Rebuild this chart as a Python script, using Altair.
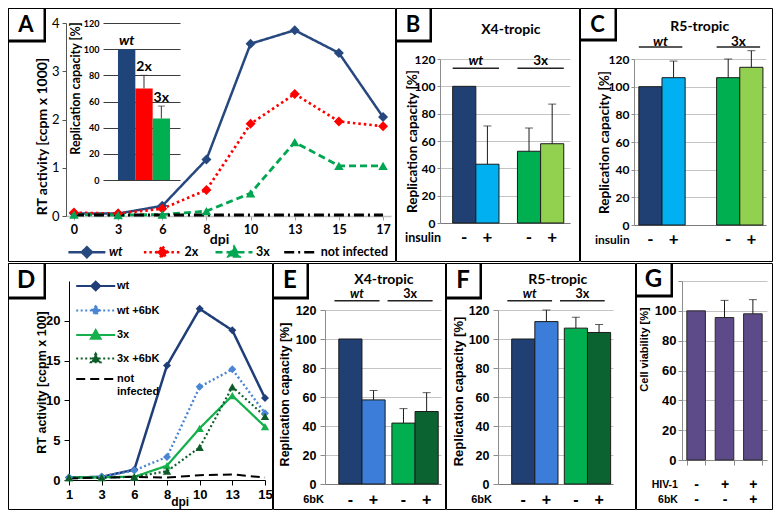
import altair as alt
import pandas as pd

LATO = "Lato"
ARIAL = "Liberation Sans"
INK = "#000000"
GRID = "#c4c4c4"
AXG = "#8c8c8c"

# ---------------- data ----------------
# Panel A: RT activity time course (ccpm x 1000)
a_dpi = ["0", "3", "6", "8", "10", "13", "15", "17"]
a_wt = [0.05, 0.05, 0.21, 1.17, 3.57, 3.85, 3.38, 2.05]
a_2x = [0.07, 0.05, 0.15, 0.54, 1.91, 2.53, 1.96, 1.86]
a_3x = [0.03, 0.02, 0.03, 0.10, 0.47, 1.53, 1.04, 1.04]
a_ni = [0.02, 0.02, 0.02, 0.02, 0.02, 0.02, 0.02, 0.02]
a_series = ["wt", "2x", "3x", "not infected"]

# Panel A inset: replication capacity (%)
ai_names = ["wt", "2x", "3x"]
ai_vals = [100, 70, 47]
ai_err = [0, 10, 9.5]

pct_ticks = [0, 20, 40, 60, 80, 100, 120]

# Panels B, C, E, F: replication capacity (%)
bar_groups = ["wt", "wt", "3x", "3x"]
bar_treat = ["-", "+", "-", "+"]
group_order = ["wt", "3x"]
b_vals = [100, 43, 52.5, 58]
b_err = [0, 28, 17, 29]
c_vals = [100, 106.5, 106.5, 114]
c_err = [0, 12, 13.5, 12]
e_vals = [100, 58, 42, 50]
e_err = [0, 6.5, 10, 13]
f_vals = [100, 112, 107.5, 104.5]
f_err = [0, 8, 7.5, 5.5]

# Panel D: RT activity (ccpm x 100)
d_dpi = ["1", "3", "6", "8", "10", "13", "15"]
d_wt = [0.3, 0.4, 1.3, 14.4, 21.5, 18.8, 10.3]
d_wt6 = [0.3, 0.4, 1.2, 2.9, 11.7, 13.9, 8.4]
d_3x = [0.3, 0.35, 0.4, 1.8, 6.5, 10.6, 6.7]
d_3x6 = [0.3, 0.3, 0.4, 1.1, 4.1, 11.7, 8.0]
d_ni = [0.2, 0.3, 0.4, 0.3, 0.6, 0.7, 0.3]
d_series = ["wt", "wt +6bK", "3x", "3x +6bK", "not infected"]
d_ticks = [0, 5, 10, 15, 20]

# Panel G: cell viability (%)
g_hiv = ["-", "+", "+"]
g_6bk = ["-", "-", "+"]
g_vals = [100, 95.5, 98]
g_err = [0, 11.5, 9.5]

# ---------------- styles ----------------
a_colors = ["#27487f", "#ff0000", "#00a651", "#000000"]
a_dash = [[1, 0], [2.5, 3], [7, 4], [10, 4, 2, 4]]
a_width = [2.5, 3, 2.2, 2.5]
a_paths = ["M-3.7,0H3.7M0,-1L1,0L0,1L-1,0Z",
           "M-3.7,0H3.7M0,-1.1L1.1,0L0,1.1L-1.1,0Z",
           "M-3.7,0H3.7M0,-1.1L1.1,0.85L-1.1,0.85Z",
           "M-3.3,0H3.3"]
# legend placement for panel A (legendX, labelOffset, italic label)
a_leg_x = [72.4, 147.9, 219.5, 286.2]
a_leg_lo = [15.5, 15.5, 15.5, 13.5]
a_leg_it = [True, False, False, False]
ai_colors = ["#1f447a", "#ff0000", "#00b050"]
bc_colors = ["#203f73", "#00b0f0", "#00b050", "#92d050"]
ef_colors = ["#203f73", "#3b7dd8", "#00b050", "#0a6330"]
d_colors = ["#1f3e78", "#4a86d4", "#14b04c", "#0e5c2a", "#000000"]
d_dash = [[1, 0], [2, 2.5], [1, 0], [2, 2.5], [9, 5]]
d_width = [2.5, 2, 2.5, 2, 2.5]
d_paths = ["M-3.9,0H3.9M0,-0.85L0.85,0L0,0.85L-0.85,0Z",
           "M-3.9,0H3.9M0,-0.85L0.85,0L0,0.85L-0.85,0Z",
           "M-3.9,0H3.9M0,-0.95L0.95,0.75L-0.95,0.75Z",
           "M-3.9,0H3.9M0,-0.95L0.95,0.75L-0.95,0.75Z",
           "M-3.9,0H3.9"]
g_color = "#5d4a88"

IND = dict(color="independent", fill="independent", stroke="independent", shape="independent",
           strokeDash="independent", strokeWidth="independent")


def frame_parts(letter, FW, FH, bw, bh, fs):
    df = pd.DataFrame({"panel": [letter]})
    base = alt.Chart(df)
    border = base.mark_rect(fill="transparent", stroke=INK, strokeWidth=1).encode(
        x=alt.value(0.5), x2=alt.value(FW - 0.5), y=alt.value(0.5), y2=alt.value(FH - 0.5))
    shadow = base.mark_rect(fill=INK).encode(
        x=alt.value(0), x2=alt.value(bw + 2), y=alt.value(0), y2=alt.value(bh + 2.5))
    box = base.mark_rect(fill="#ffffff", stroke=INK, strokeWidth=1).encode(
        x=alt.value(0.5), x2=alt.value(bw), y=alt.value(0.5), y2=alt.value(bh))
    txt = base.mark_text(font=LATO, fontWeight="bold", fontSize=fs, align="center",
                         baseline="middle", color=INK).encode(
        x=alt.value(bw / 2), y=alt.value(bh / 2 + 1), text="panel:N")
    return border, [shadow, box, txt]


def long_df(xs, names, arrays):
    rows = []
    for name, arr in zip(names, arrays):
        for xv, v in zip(xs, arr):
            rows.append({"dpi": xv, "series": name, "value": v})
    return pd.DataFrame(rows)


# ======================= Panel A =======================
AL, AT, AW, AH, AFW, AFH = 58, 15, 325, 193, 388, 254
a_df = long_df(a_dpi, a_series, [a_wt, a_2x, a_3x, a_ni])
xA = alt.X("dpi:N", sort=a_dpi, scale=alt.Scale(type="point", padding=0.18, range=[AL, AL + AW]),
           axis=alt.Axis(offset=-(AFH - AT - AH), title="dpi", titleFont=LATO, titleFontSize=14,
                         titleFontWeight="bold", titleColor=INK, titleX=AL + 153, titleY=23,
                         titleBaseline="middle", labelFont=LATO, labelFontSize=12.5,
                         labelFontWeight="bold", labelColor=INK, labelAngle=0, labelPadding=3,
                         domainColor="#c0c0c0", domainWidth=1.5, tickColor="#a0a0a0", tickSize=4))
yA = alt.Y("value:Q", scale=alt.Scale(domain=[0, 4], range=[AT + AH, AT]),
           axis=alt.Axis(offset=-AL, values=[0, 1, 2, 3, 4], grid=False, title="RT activity [ccpm x 1000]",
                         titleFont=LATO, titleFontSize=14, titleFontWeight="bold", titleColor=INK,
                         titleX=-24, titleY=AT + 113, titleBaseline="middle",
                         labelFont=LATO, labelFontSize=13, labelColor=INK, labelPadding=3,
                         domainColor="#555555", tickColor="#555555", tickSize=4))
cA = alt.Color("series:N", scale=alt.Scale(domain=a_series, range=a_colors), legend=None)
a_lines = alt.Chart(a_df).mark_line().encode(
    x=xA, y=yA, color=cA,
    strokeDash=alt.StrokeDash("series:N", scale=alt.Scale(domain=a_series, range=a_dash), legend=None),
    strokeWidth=alt.StrokeWidth("series:N", scale=alt.Scale(domain=a_series, range=a_width), legend=None))
a_pd = alt.Chart(a_df).transform_filter("datum.series == 'wt' || datum.series == '2x'").mark_point(
    shape="diamond", filled=True, size=100, opacity=1).encode(x=xA, y=yA, color=cA)
a_pt = alt.Chart(a_df).transform_filter("datum.series == '3x'").mark_point(
    shape="triangle-up", filled=True, size=90, opacity=1).encode(x=xA, y=yA, color=cA)
a_main = alt.layer(a_lines, a_pd, a_pt)


def a_single_legend(i):
    name = a_series[i]
    leg = alt.Legend(title=None, orient="none", legendX=a_leg_x[i], legendY=237.7,
                     symbolSize=100, symbolStrokeWidth=2.5, labelFont=LATO, labelFontSize=12.5,
                     labelFontWeight="bold", labelFontStyle="italic" if a_leg_it[i] else "normal",
                     labelColor=INK, labelOffset=a_leg_lo[i], padding=0)
    return alt.Chart(pd.DataFrame({"series": [name]})).transform_filter("false").mark_point(
        filled=True, opacity=1, strokeWidth=2.5).encode(
        fill=alt.Fill("series:N", scale=alt.Scale(domain=[name], range=[a_colors[i]]), legend=leg),
        stroke=alt.Stroke("series:N", scale=alt.Scale(domain=[name], range=[a_colors[i]]), legend=leg),
        shape=alt.Shape("series:N", scale=alt.Scale(domain=[name], range=[a_paths[i]]), legend=leg),
        strokeDash=alt.StrokeDash("series:N", scale=alt.Scale(domain=[name], range=[a_dash[i]]), legend=leg))


a_legs = [a_single_legend(i) for i in range(len(a_series))]

ai_df = pd.DataFrame({"name": ai_names, "value": ai_vals, "err": ai_err})
ai_df["top"] = ai_df["value"] + ai_df["err"]
IX0, IX1, IY0, IY1 = AL + 37, AL + 114, AT + 157, AT
xI = alt.X("name:N", sort=ai_names,
           scale=alt.Scale(domain=ai_names, range=[IX0, IX1], paddingInner=0, paddingOuter=0.72, align=0.6),
           axis=None)
yI_axis = alt.Axis(orient="left", offset=-IX0, values=pct_ticks, grid=True, gridColor="#3c3c3c",
                   gridWidth=1, domain=False, ticks=False, labelFont=LATO, labelFontSize=9,
                   labelFontWeight="bold", labelColor=INK, labelPadding=4,
                   title="Replication capacity [%]", titleFont=LATO, titleFontSize=12.5,
                   titleFontWeight="bold", titleColor=INK, titleX=-28, titleY=AT + 65, titleBaseline="middle")
iscale = alt.Scale(domain=[0, 120], range=[IY0, IY1])
yI = alt.Y("value:Q", scale=iscale, axis=yI_axis)
yIt = alt.Y("top:Q", scale=iscale, axis=yI_axis)
ai_err_df = ai_df[ai_df["err"] > 0]
i_bars = alt.Chart(ai_df).mark_bar().encode(
    x=xI, y=yI, color=alt.Color("name:N", scale=alt.Scale(domain=ai_names, range=ai_colors), legend=None))
i_rule = alt.Chart(ai_err_df).mark_rule(color="#333333", strokeWidth=1).encode(x=xI, y=yI, y2="top:Q")
i_cap = alt.Chart(ai_err_df).mark_tick(color="#333333", thickness=1, size=7).encode(x=xI, y=yIt)
i_t1 = alt.Chart(ai_df[ai_df["name"] == "wt"]).mark_text(
    font=LATO, fontSize=14, fontWeight="bold", fontStyle="italic", baseline="bottom", dy=-1, color=INK
).encode(x=xI, y=yIt, text="name:N")
i_t2 = alt.Chart(ai_df[ai_df["name"] != "wt"]).mark_text(
    font=LATO, fontSize=14, fontWeight="bold", baseline="bottom", dy=-1, color=INK
).encode(x=xI, y=yIt, text="name:N")
a_inset = alt.layer(i_bars, i_rule, i_cap, i_t1, i_t2)

brd, boxes = frame_parts("A", AFW, AFH, 36, 32, 22)
panelA = alt.layer(brd, a_main, *a_legs, a_inset, *boxes).resolve_scale(
    x="independent", y="independent", **IND).properties(width=AFW, height=AFH)


# ======================= bar panels B, C, E, F =======================
def bar_panel(letter, vals, errs, colors, title, cond, g):
    L, T, W, H, FW, FH = g["L"], g["T"], g["W"], g["H"], g["FW"], g["FH"]
    keys = [a + b for a, b in zip(bar_groups, bar_treat)]
    df = pd.DataFrame({"group": bar_groups, "treat": bar_treat, "value": vals, "err": errs, "key": keys})
    df["top"] = df["value"] + df["err"]
    xs = alt.Scale(domain=group_order, range=[L, L + W], paddingInner=g["pi"], paddingOuter=g["po"],
                   align=g["al"])
    x = alt.X("group:N", sort=group_order, scale=xs,
              axis=alt.Axis(offset=-(FH - T - H), title=None, labels=False, ticks=False,
                            domainColor="#7a7a7a", domainWidth=1.2))
    xo = alt.XOffset("treat:N", sort=["-", "+"],
                     scale=alt.Scale(domain=["-", "+"], paddingInner=0, paddingOuter=0))
    yax = alt.Axis(offset=-L, values=pct_ticks, grid=True, gridColor=GRID, gridWidth=1, domainColor=AXG,
                   tickColor=AXG, tickSize=g["tick"], labelPadding=g["lpad"], labelFont=g["lf"],
                   labelFontSize=g["lfs"], labelFontWeight="bold", labelColor=INK,
                   title="Replication capacity [%]", titleFont=g["tf"], titleFontSize=g["tfs"],
                   titleFontWeight="bold", titleColor=INK, titleX=g["tx"], titleY=g["ty"],
                   titleBaseline="middle")
    ysc = alt.Scale(domain=[0, 120], range=[T + H, T])
    y = alt.Y("value:Q", scale=ysc, axis=yax)
    ytop = alt.Y("top:Q", scale=ysc, axis=yax)
    bars = alt.Chart(df).mark_bar(stroke="#1b1b1b", strokeWidth=1).encode(
        x=x, xOffset=xo, y=y,
        color=alt.Color("key:N", scale=alt.Scale(domain=keys, range=colors), legend=None))
    edf = df[df["err"] > 0]
    rules = alt.Chart(edf).mark_rule(color="#1b1b1b", strokeWidth=1).encode(x=x, xOffset=xo, y=y, y2="top:Q")
    caps = alt.Chart(edf).mark_tick(color="#1b1b1b", thickness=1, size=8).encode(x=x, xOffset=xo, y=ytop)
    signs = alt.Chart(df).mark_text(font=g["sf"], fontWeight="bold", fontSize=g["sfs"], color=INK,
                                    baseline="middle").encode(
        x=x, xOffset=xo, y=alt.value(g["sy"]), text="treat:N")
    gdf = df[df["treat"] == "-"]
    glw = alt.Chart(gdf[gdf["group"] == "wt"]).mark_text(
        font=LATO, fontWeight="bold", fontStyle="italic", fontSize=g["gfs"], color=INK, baseline="middle"
    ).encode(x=x, y=alt.value(g["gy"]), text="group:N")
    glx = alt.Chart(gdf[gdf["group"] != "wt"]).mark_text(
        font=LATO, fontWeight="bold", fontSize=g["gfs"], color=INK, baseline="middle"
    ).encode(x=x, y=alt.value(g["gy"]), text="group:N")
    uline = alt.Chart(gdf).mark_bar(color="#222222", width=alt.RelativeBandSize(g["ub"])).encode(
        x=x, y=alt.value(g["uy"]), y2=alt.value(g["uy"] + 1.5))
    ttl = alt.Chart(pd.DataFrame({"t": [title]})).mark_text(
        font=LATO, fontWeight="bold", fontSize=14, color=INK, align="center", baseline="middle"
    ).encode(x=alt.value(g["ttx"]), y=alt.value(g["tty"]), text="t:N")
    cl = alt.Chart(pd.DataFrame({"c": [cond]})).mark_text(
        font=g["cf"], fontWeight="bold", fontSize=g["cfs"], color=INK, align=g["ca"], baseline="middle"
    ).encode(x=alt.value(g["cx"]), y=alt.value(g["sy"]), text="c:N")
    brd, boxes = frame_parts(letter, FW, FH, g["bw"], g["bh"], g["bfs"])
    return alt.layer(brd, bars, rules, caps, signs, glw, glx, uline, ttl, cl, *boxes).properties(
        width=FW, height=FH)


gB = dict(L=44, T=51, W=130, H=164, FW=184, FH=254, pi=0.285, po=0.146, al=0.67,
          tick=3, lpad=2, lf=LATO, lfs=12, tf=LATO, tfs=13.5, tx=-27.4, ty=133,
          sf=LATO, sfs=17, sy=230, gfs=13.5, gy=53, uy=59.5, ub=1.0, ttx=114.8, tty=22.3,
          cf=LATO, cfs=12.5, ca="left", cx=9, bw=34, bh=32, bfs=22)
gC = dict(L=54, T=51, W=132, H=166, FW=193, FH=254, pi=0.441, po=0.069, al=0.45,
          tick=3, lpad=2, lf=LATO, lfs=12, tf=LATO, tfs=13.5, tx=-29.5, ty=134,
          sf=LATO, sfs=17, sy=232, gfs=13.5, gy=33.5, uy=38.3, ub=1.0, ttx=119.7, tty=19.4,
          cf=LATO, cfs=12, ca="left", cx=15, bw=35, bh=31, bfs=22)
gE = dict(L=52, T=47, W=116, H=174, FW=173, FH=247, pi=0.315, po=0.25, al=0.52,
          tick=5, lpad=4, lf=ARIAL, lfs=12.5, tf=ARIAL, tfs=12.5, tx=-40.5, ty=131,
          sf=ARIAL, sfs=16, sy=236.8, gfs=12.5, gy=30.8, uy=37, ub=1.24, ttx=110.9, tty=16.5,
          cf=ARIAL, cfs=11, ca="right", cx=51, bw=34, bh=34, bfs=24)
gF = dict(L=52, T=47, W=115, H=174, FW=190, FH=247, pi=0.315, po=0.25, al=0.52,
          tick=5, lpad=4, lf=ARIAL, lfs=12.5, tf=ARIAL, tfs=13, tx=-40, ty=128,
          sf=ARIAL, sfs=16, sy=236.8, gfs=12.5, gy=30.8, uy=37, ub=1.24, ttx=111.8, tty=16.5,
          cf=ARIAL, cfs=11, ca="right", cx=46, bw=34, bh=34, bfs=24)

panelB = bar_panel("B", b_vals, b_err, bc_colors, "X4-tropic", "insulin", gB)
panelC = bar_panel("C", c_vals, c_err, bc_colors, "R5-tropic", "insulin", gC)
panelE = bar_panel("E", e_vals, e_err, ef_colors, "X4-tropic", "6bK", gE)
panelF = bar_panel("F", f_vals, f_err, ef_colors, "R5-tropic", "6bK", gF)

# ======================= Panel D =======================
DL, DT, DW, DH, DFW, DFH = 61, 18, 196, 199, 265, 247
d_df = long_df(d_dpi, d_series, [d_wt, d_wt6, d_3x, d_3x6, d_ni])
xD = alt.X("dpi:N", sort=d_dpi, scale=alt.Scale(type="point", padding=0, range=[DL, DL + DW]),
           axis=alt.Axis(offset=-(DFH - DT - DH), title="dpi", titleFont=ARIAL, titleFontSize=12,
                         titleFontWeight="bold", titleColor=INK, titleX=DL + 110.7, titleY=21.5,
                         titleBaseline="middle", labelFont=ARIAL, labelFontSize=13,
                         labelFontWeight="bold", labelColor=INK, labelAngle=0, labelPadding=3.5,
                         domainColor=INK, tickColor=INK, tickSize=5))
yD = alt.Y("value:Q", scale=alt.Scale(domain=[0, 25], range=[DT + DH, DT]),
           axis=alt.Axis(offset=-DL, values=d_ticks, grid=False, title="RT activity [ccpm x 100]",
                         titleFont=ARIAL, titleFontSize=12.5, titleFontWeight="bold", titleColor=INK,
                         titleX=-28, titleY=DT + 101, titleBaseline="middle",
                         labelFont=ARIAL, labelFontSize=13, labelFontWeight="bold", labelColor=INK,
                         labelPadding=4, domainColor=INK, tickColor=INK, tickSize=5))
cD = alt.Color("series:N", scale=alt.Scale(domain=d_series, range=d_colors), legend=None)
d_lines = alt.Chart(d_df).mark_line().encode(
    x=xD, y=yD, color=cD,
    strokeDash=alt.StrokeDash("series:N", scale=alt.Scale(domain=d_series, range=d_dash), legend=None),
    strokeWidth=alt.StrokeWidth("series:N", scale=alt.Scale(domain=d_series, range=d_width), legend=None))
d_pd = alt.Chart(d_df).transform_filter("datum.series == 'wt' || datum.series == 'wt +6bK'").mark_point(
    shape="diamond", filled=True, size=64, opacity=1).encode(x=xD, y=yD, color=cD)
d_pt = alt.Chart(d_df).transform_filter("datum.series == '3x' || datum.series == '3x +6bK'").mark_point(
    shape="triangle-up", filled=True, size=70, opacity=1).encode(x=xD, y=yD, color=cD)
d_main = alt.layer(d_lines, d_pd, d_pt)
legD = alt.Legend(title=None, orient="none", legendX=81.2, legendY=16.5, direction="vertical",
                  symbolSize=100, symbolStrokeWidth=2.2, labelFont=ARIAL, labelFontSize=11,
                  labelFontWeight="bold", labelColor=INK, labelOffset=14.8, rowPadding=5.5, padding=0,
                  labelExpr="datum.label == 'not infected' ? ['not', 'infected'] : datum.label")
d_leg = alt.Chart(pd.DataFrame({"series": d_series})).transform_filter("false").mark_point(
    filled=True, opacity=1, strokeWidth=2.2).encode(
    fill=alt.Fill("series:N", scale=alt.Scale(domain=d_series, range=d_colors), legend=legD),
    stroke=alt.Stroke("series:N", scale=alt.Scale(domain=d_series, range=d_colors), legend=legD),
    shape=alt.Shape("series:N", scale=alt.Scale(domain=d_series, range=d_paths), legend=legD),
    strokeDash=alt.StrokeDash("series:N", scale=alt.Scale(domain=d_series, range=d_dash), legend=legD))
brd, boxes = frame_parts("D", DFW, DFH, 36, 34, 24)
panelD = alt.layer(brd, d_main, d_leg, *boxes).resolve_scale(**IND).properties(width=DFW, height=DFH)

# ======================= Panel G =======================
GL, GT, GW, GH, GFW, GFH = 46, 18, 85, 179, 137, 247
g_cond = [h + "/" + b for h, b in zip(g_hiv, g_6bk)]
g_df = pd.DataFrame({"cond": g_cond, "value": g_vals, "err": g_err})
g_df["top"] = g_df["value"] + g_df["err"]
xG = alt.X("cond:N", sort=g_cond,
           scale=alt.Scale(range=[GL, GL + GW], paddingInner=0.345, paddingOuter=0.17),
           axis=alt.Axis(offset=-(GFH - GT - GH), labelExpr="split(datum.label, '/')", labelAngle=0,
                         labelBaseline="top", labelLineHeight=15.5, labelPadding=12, labelFont=ARIAL,
                         labelFontSize=14, labelFontWeight="bold", labelColor=INK, tickBand="extent",
                         tickSize=5, tickColor=AXG, domainColor=AXG, title=["HIV-1", "6bK"],
                         titleFont=ARIAL, titleFontSize=10.5, titleFontWeight="bold", titleColor=INK,
                         titleAlign="right", titleX=GL - 4.6, titleY=19, titleBaseline="top",
                         titleLineHeight=15.5, titleAngle=0))
gyax = alt.Axis(offset=-GL, values=pct_ticks, labelExpr="datum.value == 120 ? '' : datum.label", grid=True,
                gridColor=GRID, domainColor=AXG, tickColor=AXG, tickSize=4, labelPadding=2,
                labelFont=ARIAL, labelFontSize=13, labelFontWeight="bold", labelColor=INK,
                title="Cell viability [%]", titleFont=ARIAL, titleFontSize=11, titleFontWeight="bold",
                titleColor=INK, titleX=-37.6, titleY=GT + 68, titleBaseline="middle")
gys = alt.Scale(domain=[0, 120], range=[GT + GH, GT])
yG = alt.Y("value:Q", scale=gys, axis=gyax)
yGt = alt.Y("top:Q", scale=gys, axis=gyax)
g_edf = g_df[g_df["err"] > 0]
g_bars = alt.Chart(g_df).mark_bar(color=g_color, stroke="#2a2a2a", strokeWidth=1).encode(x=xG, y=yG)
g_rule = alt.Chart(g_edf).mark_rule(color="#1b1b1b", strokeWidth=1).encode(x=xG, y=yG, y2="top:Q")
g_cap = alt.Chart(g_edf).mark_tick(color="#1b1b1b", thickness=1, size=8).encode(x=xG, y=yGt)
brd, boxes = frame_parts("G", GFW, GFH, 35, 32, 24)
panelG = alt.layer(brd, g_bars, g_rule, g_cap, *boxes).properties(width=GFW, height=GFH)

# ======================= assemble =======================
top_row = alt.hconcat(panelA, panelB, panelC, spacing=0).resolve_scale(**IND)
bottom_row = alt.hconcat(panelD, panelE, panelF, panelG, spacing=0).resolve_scale(**IND)
chart = alt.vconcat(top_row, bottom_row, spacing=0).resolve_scale(**IND).properties(
    padding=0, background="#ffffff").configure_view(strokeWidth=0)

chart.save("out.html", embed_options={"renderer": "svg", "actions": False})
